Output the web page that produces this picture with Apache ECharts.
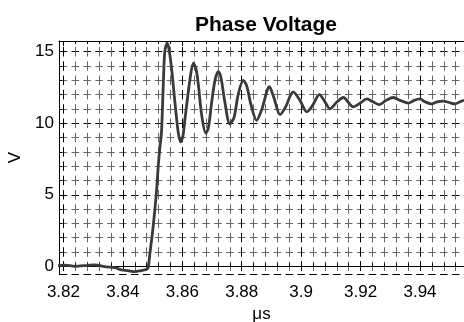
<!DOCTYPE html>
<html>
<head>
<meta charset="utf-8">
<script src="https://cdn.jsdelivr.net/npm/echarts@6/dist/echarts.min.js"></script>
<style>
  html, body { margin: 0; padding: 0; background: #fff; }
  #chart { width: 464px; height: 322px; }
</style>
</head>
<body>
<div id="chart"></div>
<script>
// time (µs) and phase voltage (V)
const timeUs = [
  3.8182, 3.8205, 3.8238, 3.8282, 3.8306, 3.8339, 3.8373, 3.8396, 3.8417, 3.8440,
  3.8461, 3.8480, 3.8485, 3.8491, 3.8502, 3.8513, 3.8519, 3.8525, 3.8530, 3.8536,
  3.8541, 3.8549, 3.8555, 3.8564, 3.8575, 3.8586, 3.8594, 3.8602, 3.8609, 3.8626,
  3.8637, 3.8646, 3.8654, 3.8665, 3.8679, 3.8688, 3.8699, 3.8710, 3.8721, 3.8730,
  3.8743, 3.8760, 3.8774, 3.8788, 3.8805, 3.8817, 3.8831, 3.8850, 3.8868, 3.8893,
  3.8908, 3.8929, 3.8949, 3.8973, 3.8996, 3.9019, 3.9040, 3.9061, 3.9080, 3.9097,
  3.9121, 3.9142, 3.9175, 3.9198, 3.9221, 3.9242, 3.9263, 3.9286, 3.9310, 3.9333,
  3.9361, 3.9380, 3.9400, 3.9417, 3.9439, 3.9457, 3.9478, 3.9498, 3.9518, 3.9535,
  3.9548
];
const voltage = [
  0.05, 0.08, 0.0, 0.07, 0.1, -0.03, -0.1, -0.26, -0.3, -0.38,
  -0.3, -0.21, -0.1, 0.9, 2.8, 5.2, 7.0, 8.4, 9.4, 12.7,
  15.0, 15.6, 15.2, 13.8, 11.5, 9.4, 8.7, 9.1, 10.3, 13.1,
  14.2, 13.8, 12.7, 10.6, 9.3, 9.7, 11.5, 13.0, 13.6, 13.2,
  11.5, 9.95, 10.4, 12.0, 13.0, 12.6, 11.3, 10.2, 11.0, 12.55,
  11.8, 10.6, 11.2, 12.2, 11.6, 10.8, 11.3, 12.0, 11.5, 11.0,
  11.5, 11.8, 11.15, 11.4, 11.7, 11.5, 11.3, 11.6, 11.8, 11.6,
  11.4, 11.6, 11.7, 11.5, 11.35, 11.5, 11.55, 11.45, 11.35, 11.5,
  11.6
];
const xMin = 3.8185, xMax = 3.9548;
const yMin = -0.54, yMax = 15.75;

const gridL = 59, gridT = 41, gridW = 405, gridH = 233;
const font = '"Liberation Sans", Arial, sans-serif';

// dotted-grid look: dashes centred on the grid crossings
const xPx = gridW / (xMax - xMin);
const yPx = gridH / (yMax - yMin);
const xPeriod = xPx * 0.004, yPeriod = yPx * 1;
const hDash = 7.5, vDash = 9.5;
const hStart = (3.82 - xMin) * xPx - hDash / 2;
const vStart = (yMax - 15) * yPx - vDash / 2;
const hOffset = ((xPeriod - hStart) % xPeriod + xPeriod) % xPeriod;
const vOffset = ((yPeriod - vStart) % yPeriod + yPeriod) % yPeriod;

const chart = echarts.init(document.getElementById('chart'));
chart.setOption({
  animation: false,
  backgroundColor: '#fff',
  title: {
    text: 'Phase Voltage',
    left: 261,
    top: 10,
    textAlign: 'center',
    textStyle: { fontFamily: font, fontSize: 21, fontWeight: 'bold', color: '#000' },
  },
  grid: {
    left: gridL, top: gridT, width: gridW, height: gridH,
    containLabel: false, outerBoundsMode: 'none',
  },
  xAxis: [
    {
      type: 'value',
      min: xMin,
      max: xMax,
      splitNumber: 7,
      name: 'μs',
      nameLocation: 'middle',
      nameGap: 31,
      nameTextStyle: { fontFamily: font, fontSize: 17, color: '#000' },
      axisLine: { lineStyle: { color: '#000', width: 1 } },
      axisTick: { inside: true, length: 5, lineStyle: { color: '#000' } },
      minorTick: { show: true, splitNumber: 5, length: 3, lineStyle: { color: '#000' } },
      axisLabel: {
        margin: 10, fontFamily: font, fontSize: 17, color: '#000',
        showMinLabel: false, showMaxLabel: false,
        formatter: v => String(+v.toFixed(2)),
      },
      splitLine: {
        show: true,
        lineStyle: { color: '#000', width: 1, type: [vDash, yPeriod - vDash], dashOffset: vOffset },
      },
      minorSplitLine: {
        show: true,
        lineStyle: { color: '#666', width: 1, type: [vDash, yPeriod - vDash], dashOffset: vOffset },
      },
    },
    {
      type: 'value',
      position: 'top',
      min: xMin,
      max: xMax,
      splitNumber: 7,
      axisLine: { show: true, lineStyle: { color: '#000', width: 1 } },
      axisTick: { inside: true, length: 5, lineStyle: { color: '#000' } },
      minorTick: { show: true, splitNumber: 5, length: 3, lineStyle: { color: '#000' } },
      axisLabel: { show: false },
      splitLine: { show: false },
    },
  ],
  yAxis: {
    type: 'value',
    min: yMin,
    max: yMax,
    splitNumber: 3,
    name: 'V',
    nameLocation: 'middle',
    nameRotate: 90,
    nameGap: 34,
    nameTextStyle: { fontFamily: font, fontSize: 17, color: '#000' },
    axisLine: { show: true, lineStyle: { color: '#000', width: 1 } },
    axisTick: { show: true, inside: true, length: 5, lineStyle: { color: '#000' } },
    minorTick: { show: true, splitNumber: 5, length: 3, lineStyle: { color: '#000' } },
    axisLabel: {
      margin: 5, fontFamily: font, fontSize: 17, color: '#000',
      showMinLabel: false, showMaxLabel: false,
    },
    splitLine: {
      show: true,
      lineStyle: { color: '#000', width: 1, type: [hDash, xPeriod - hDash], dashOffset: hOffset },
    },
    minorSplitLine: {
      show: true,
      lineStyle: { color: '#666', width: 1, type: [hDash, xPeriod - hDash], dashOffset: hOffset },
    },
  },
  series: [
    {
      type: 'line',
      xAxisIndex: 0,
      data: timeUs.map((t, i) => [t, voltage[i]]),
      smooth: 0.3,
      showSymbol: false,
      lineStyle: { color: '#3a3a3a', width: 2.8 },
    },
  ],
});
</script>
</body>
</html>
